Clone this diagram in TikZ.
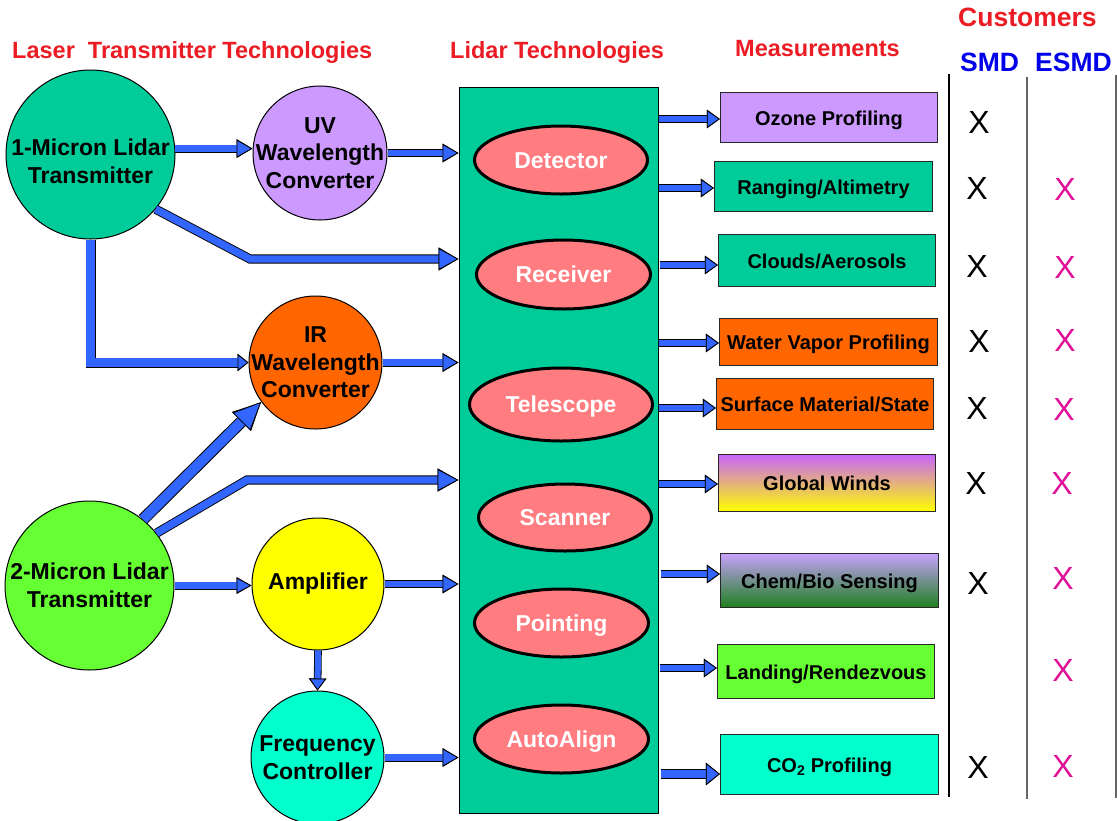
\documentclass[tikz,border=0pt]{standalone}
\usepackage{fontspec}
\setmainfont{Liberation Sans}
\usetikzlibrary{arrows.meta,shapes.geometric,calc}
\definecolor{tgreen}{RGB}{0,204,153}
\definecolor{lav}{RGB}{204,153,255}
\definecolor{orng}{RGB}{255,102,0}
\definecolor{lgreen}{RGB}{102,255,51}
\definecolor{yel}{RGB}{255,255,0}
\definecolor{aqua}{RGB}{0,255,204}
\definecolor{salmon}{RGB}{255,124,128}
\definecolor{ablue}{RGB}{51,102,255}
\definecolor{hred}{RGB}{235,28,36}
\definecolor{hblue}{RGB}{0,0,235}
\definecolor{mag}{RGB}{224,16,152}
\definecolor{boxline}{RGB}{40,40,40}
\definecolor{gwtop}{RGB}{200,100,250}
\definecolor{cbtop}{RGB}{200,160,252}
\definecolor{cbbot}{RGB}{30,128,30}
\begin{document}
\begin{tikzpicture}[x=1pt,y=-1pt,
  circ/.style={circle, draw=black, line width=1pt, inner sep=0pt, minimum size=#1},
  ctext/.style={font=\fontsize{23}{27.5}\selectfont\bfseries, align=center, inner sep=0pt},
  ell/.style n args={2}{ellipse, draw=black, line width=3pt, fill=salmon, inner sep=0pt,
     minimum width=#1, minimum height=#2, text=white, text height=16.5pt, text depth=0pt,
     font=\fontsize{23}{27}\selectfont\bfseries},
  mbox/.style n args={2}{rectangle, draw=boxline, line width=1.2pt, inner sep=0pt,
     minimum width=#1, minimum height=#2, text height=17pt, text depth=2pt,
     font=\fontsize{20}{24}\selectfont\bfseries},
  hdr/.style={text=hred, font=\fontsize{23.5}{28}\selectfont\bfseries, inner sep=0pt, anchor=base west},
  cust/.style={font=\fontsize{26.5}{30}\selectfont\bfseries, inner sep=0pt, anchor=base west},
  xk/.style={font=\fontsize{32}{36}\selectfont, inner sep=0pt},
  barrow/.style n args={4}{draw=ablue, line width=#1pt,
     preaction={draw=black, line width=#2pt, -{Triangle[length=#3pt,width=#4pt,fill=black]}},
     -{Triangle[length=#3pt,width=#4pt,fill=ablue,color=black,line width=0.8pt]}},
  sarr/.style={barrow={6.2}{7.8}{13}{18}},
]
\useasboundingbox (0,0) rectangle (1117,820);
\fill[white] (0,0) rectangle (1117,820);

% headers
\node[hdr] (h1) at (12,58) {Laser\ \ Transmitter Technologies};
\node[hdr] (h2) at (450,58) {Lidar Technologies};
\node[hdr] (h3) at (735,56) {Measurements};
\node[cust, text=hred] (h4) at (958,26) {Customers};
\node[cust, text=hblue] (h5) at (960,71) {SMD};
\node[cust, text=hblue] (h6) at (1035,71) {ESMD};

% customer column lines
\draw[black, line width=1.3pt] (949,74) -- (949,797);
\draw[black!60, line width=2pt] (1027,77) -- (1027,799);
\draw[black!60, line width=2pt] (1116,75) -- (1116,798);

% left circles
\node[circ=169pt, fill=tgreen] (m1) at (90.5,154.5) {};
\node[ctext, yshift=-7pt] (m1t) at (m1) {1-Micron Lidar\\Transmitter};
\node[circ=134pt, fill=lav] (uv) at (320,153) {};
\node[ctext] (uvt) at (uv) {UV\\Wavelength\\Converter};
\node[circ=133pt, fill=orng] (ir) at (315.5,362.5) {};
\node[ctext] (irt) at (ir) {IR\\Wavelength\\Converter};
\node[circ=169pt, fill=lgreen] (m2) at (89.5,585.5) {};
\node[ctext] (m2t) at (m2) {2-Micron Lidar\\Transmitter};
\node[circ=132pt, fill=yel] (amp) at (318,584) {};
\node[ctext] (ampt) at (amp) {Amplifier};
\node[circ=133pt, fill=aqua] (freq) at (317.5,757.5) {};
\node[ctext] (freqt) at (freq) {Frequency\\Controller};

% lidar technologies column
\node[rectangle, draw=black, line width=1pt, fill=tgreen, minimum width=199pt, minimum height=726pt, inner sep=0pt] (lidar) at (558.5,450) {};
\node[ell={173pt}{68pt}] (det) at (561,160) {Detector};
\node[ell={174pt}{69pt}] (rec) at (563.5,274.5) {Receiver};
\node[ell={183pt}{73pt}] (tel) at (561,404.5) {Telescope};
\node[ell={173pt}{67pt}] (scn) at (565,517.5) {Scanner};
\node[ell={174pt}{68pt}] (pnt) at (561.5,623) {Pointing};
\node[ell={174pt}{68pt}] (aal) at (561.5,739) {AutoAlign};

% measurement boxes
\node[mbox={217pt}{50pt}, fill=lav] (oz) at (829,117.5) {Ozone Profiling};
\node[mbox={218pt}{50pt}, fill=tgreen] (rg) at (823.5,186.5) {Ranging/Altimetry};
\node[mbox={217pt}{52pt}, fill=tgreen] (cl) at (827,260.5) {Clouds/Aerosols};
\node[mbox={218pt}{47pt}, fill=orng] (wv) at (828.5,342) {Water Vapor Profiling};
\node[mbox={217pt}{51pt}, fill=orng] (sf) at (825,404) {Surface Material/State};
\node[mbox={217pt}{57pt}, top color=gwtop, bottom color=yel] (gw) at (827,483) {Global Winds};
\node[mbox={218pt}{54pt}, top color=cbtop, bottom color=cbbot] (cb) at (829.5,580.5) {Chem/Bio Sensing};
\node[mbox={217pt}{54pt}, fill=lgreen] (ld) at (826,671.5) {Landing/Rendezvous};
\node[mbox={218pt}{60pt}, fill=aqua] (co) at (829.5,764.5) {CO\textsubscript{2} Profiling};

% X marks SMD
\node[xk] (s1) at (979,122) {X};
\node[xk] (s2) at (977,188) {X};
\node[xk] (s3) at (977,266) {X};
\node[xk] (s4) at (979,341) {X};
\node[xk] (s5) at (977,408) {X};
\node[xk] (s6) at (976,483) {X};
\node[xk] (s7) at (978,583) {X};
\node[xk] (s8) at (978,767) {X};
% X marks ESMD
\node[xk, text=mag] (e2) at (1065,189) {X};
\node[xk, text=mag] (e3) at (1065,267) {X};
\node[xk, text=mag] (e4) at (1065,340) {X};
\node[xk, text=mag] (e5) at (1064,409) {X};
\node[xk, text=mag] (e6) at (1062,483) {X};
\node[xk, text=mag] (e7) at (1063,578) {X};
\node[xk, text=mag] (e8) at (1063,670) {X};
\node[xk, text=mag] (e9) at (1063,766) {X};

% left arrows
\coordinate (k1) at (250,259);
\coordinate (k2) at (247,480);
\draw[barrow={6.4}{8}{16}{18}] (m1.4) -- (m1.4 -| uv.west);
\draw[barrow={6.4}{8}{16}{18}] (uv.east) -- (uv.east -| lidar.west);
\draw[barrow={7.4}{9.2}{20}{22}] (m1.-40) -- (k1) -- (k1 -| lidar.west);
\draw[barrow={8.4}{10}{11}{17}] (m1.south) |- (ir.west);
\draw[barrow={6.4}{8}{16}{18}] (ir.east) -- (ir.east -| lidar.west);
\draw[barrow={10}{12}{28}{25}] (m2.51) -- (ir.216);
\draw[barrow={7.4}{9.2}{21}{22}] (m2.38) -- (k2) -- (k2 -| lidar.west);
\draw[barrow={6.4}{8}{15}{16}] (m2.east) -- (m2.east -| amp.west);
\draw[barrow={6.4}{8}{16}{18}] (amp.east) -- (amp.east -| lidar.west);
\draw[barrow={6}{7.6}{12}{17}] (amp.south) -- (freq.north);
\draw[barrow={6.4}{8}{16}{18}] (freq.east) -- (freq.east -| lidar.west);

% right arrows
\coordinate (ozp) at ($(oz.west)+(0,1.5)$);
\coordinate (rgp) at ($(rg.west)+(0,1.5)$);
\coordinate (clp) at ($(cl.west)+(0,4.5)$);
\coordinate (wvp) at ($(wv.west)+(0,1)$);
\coordinate (sfp) at ($(sf.west)+(0,4)$);
\coordinate (gwp) at ($(gw.west)+(0,1)$);
\coordinate (cbp) at ($(cb.west)+(0,-6.5)$);
\coordinate (ldp) at ($(ld.west)+(0,-3.5)$);
\coordinate (cop) at ($(co.west)+(0,9.5)$);
\draw[sarr] (ozp -| lidar.east) -- (ozp);
\draw[sarr] (rgp -| lidar.east) -- (rgp);
\draw[sarr] ([xshift=1pt]clp -| lidar.east) -- (clp);
\draw[sarr] (wvp -| lidar.east) -- (wvp);
\draw[sarr] (sfp -| lidar.east) -- (sfp);
\draw[sarr] (gwp -| lidar.east) -- (gwp);
\draw[sarr] ([xshift=2pt]cbp -| lidar.east) -- (cbp);
\draw[sarr] ([xshift=1pt]ldp -| lidar.east) -- (ldp);
\draw[barrow={7.6}{9.4}{14}{22}] ([xshift=2pt]cop -| lidar.east) -- (cop);
\end{tikzpicture}
\end{document}
